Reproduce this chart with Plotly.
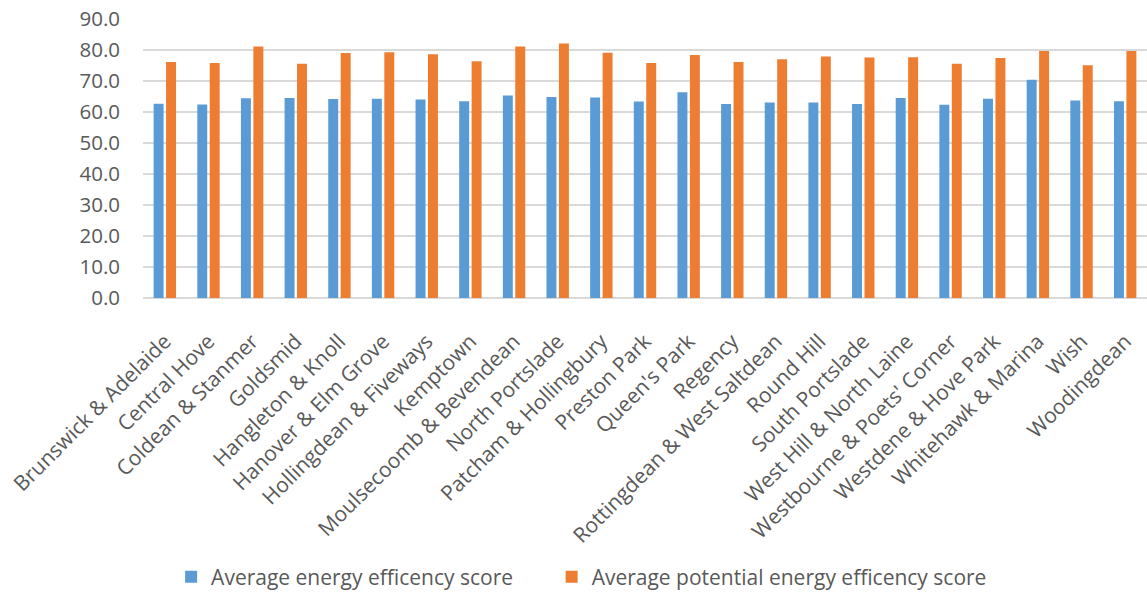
import plotly.graph_objects as go

wards = [
    "Brunswick & Adelaide", "Central Hove", "Coldean & Stanmer", "Goldsmid",
    "Hangleton & Knoll", "Hanover & Elm Grove", "Hollingdean & Fiveways",
    "Kemptown", "Moulsecoomb & Bevendean", "North Portslade",
    "Patcham & Hollingbury", "Preston Park", "Queen's Park", "Regency",
    "Rottingdean & West Saltdean", "Round Hill", "South Portslade",
    "West Hill & North Laine", "Westbourne & Poets' Corner",
    "Westdene & Hove Park", "Whitehawk & Marina", "Wish", "Woodingdean",
]

avg_score = [
    62.7, 62.4, 64.4, 64.5, 64.2, 64.3, 64.0, 63.5, 65.3, 64.8, 64.7, 63.4,
    66.4, 62.6, 63.1, 63.1, 62.6, 64.5, 62.3, 64.3, 70.4, 63.7, 63.5,
]

potential_score = [
    76.1, 75.8, 81.1, 75.6, 79.0, 79.3, 78.6, 76.4, 81.1, 82.1, 79.1, 75.8,
    78.4, 76.1, 77.0, 77.9, 77.6, 77.7, 75.6, 77.4, 79.7, 75.1, 79.7,
]

y_ticks = [0, 10, 20, 30, 40, 50, 60, 70, 80, 90]

text_color = "#595959"
font_family = "Open Sans"

fig = go.Figure()
fig.add_trace(go.Bar(
    x=wards, y=avg_score, name="Average energy efficency score",
    marker=dict(color="#5B9BD5", line=dict(width=0)), legend="legend",
))
fig.add_trace(go.Bar(
    x=wards, y=potential_score, name="Average potential energy efficency score",
    marker=dict(color="#ED7D31", line=dict(width=0)), legend="legend2",
))

legend_style = dict(
    orientation="h", xanchor="left", y=-1.0, yanchor="middle",
    font=dict(size=21, color=text_color), bgcolor="rgba(0,0,0,0)",
)

fig.update_layout(
    width=1147, height=592,
    margin=dict(l=143, r=0, t=19, b=294, autoexpand=False),
    paper_bgcolor="white", plot_bgcolor="white",
    barmode="group", bargap=0.43, bargroupgap=0.2,
    font=dict(family=font_family, color=text_color, size=18),
    showlegend=True,
    legend=dict(x=0.028, **legend_style),
    legend2=dict(x=0.407, **legend_style),
    xaxis=dict(
        tickangle=-45, showgrid=False, showline=False, ticks="",
        tickfont=dict(size=21, color=text_color), ticklabelstandoff=26,
        automargin=False,
    ),
    yaxis=dict(
        range=[0, 90], tickvals=y_ticks, tickformat=".1f",
        showgrid=True, gridcolor="#D9D9D9", gridwidth=1.5,
        zeroline=True, zerolinecolor="#D9D9D9", zerolinewidth=1.5,
        showline=False, ticks="", ticklabelstandoff=22,
        tickfont=dict(size=20.5, color=text_color), automargin=False,
    ),
)

fig.write_html("out.html")
